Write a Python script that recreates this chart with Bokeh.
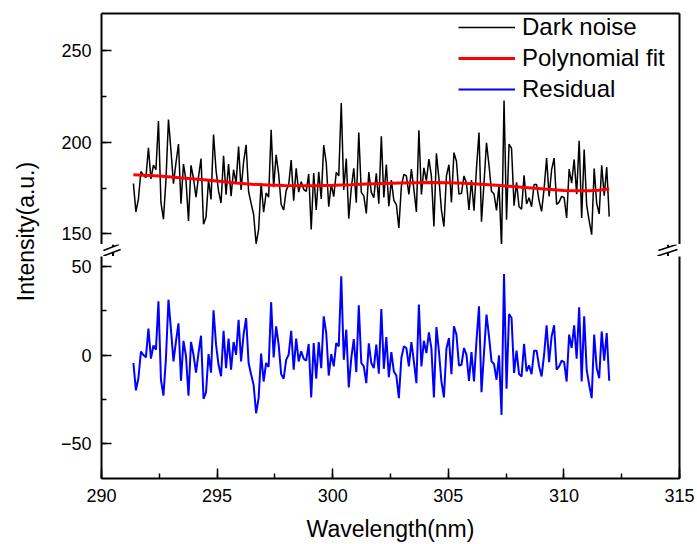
from math import pi
import numpy as np
from bokeh.plotting import figure
from bokeh.models import Range1d, LinearAxis, SingleIntervalTicker, FixedTicker, Label
from bokeh.layouts import row, column
from bokeh.embed import file_html
from bokeh.resources import INLINE

# ---------------- data ----------------
wl_start = 291.38
wl_end = 311.96

dark_noise = [
    177.5, 162, 169, 184, 182, 180.7, 197, 180, 187.5, 185,
    211.5, 167, 158, 179.3, 212.4, 195.4, 177.4, 188.8, 199, 166.4,
    188.1, 179.2, 157, 187.4, 180.2, 170, 181.1, 191, 155.2, 159,
    179.4, 168.8, 204.2, 184.7, 173.3, 166.8, 192.6, 171.4, 188.1, 170.5,
    185, 177.8, 197.6, 174, 189.2, 198.6, 173.1, 166.6, 160.7, 144.6,
    152.4, 177.6, 161.8, 172.3, 170, 206.8, 175.5, 193.1, 182.7, 166,
    163, 173.7, 176.6, 190.2, 168.1, 185.7, 172.8, 178.5, 174.3, 173.2,
    182.7, 152.4, 183.2, 163, 183.8, 169, 198.4, 188.9, 164.8, 177,
    170.3, 183.5, 181.6, 221.4, 174, 191.1, 158.3, 175, 185.8, 167,
    205.3, 172.6, 170.7, 161.2, 183.7, 172.6, 169.7, 183, 166.5, 203.2,
    169.8, 187.8, 165.1, 179.3, 168.3, 166, 153.2, 175.9, 182.5, 181.6,
    171.5, 185.3, 174.3, 162, 206.5, 171.5, 186, 179, 190.8, 181.5,
    154, 193.9, 180.1, 163, 154, 181.6, 187.7, 167.2, 194.3, 189.6,
    171.7, 172.1, 181.6, 177.8, 163, 179.3, 162.6, 185.7, 205.3, 156.6,
    177.9, 199.7, 187.4, 173.2, 171.7, 162.8, 176.6, 142.9, 222.8, 157.7,
    198.9, 196.6, 165.4, 178.1, 164.8, 163.5, 181.9, 166.3, 169.7, 164.8,
    176.9, 176.9, 168, 162.3, 174.6, 191.3, 170.4, 185, 191.3, 166.1,
    167.3, 170.5, 169.7, 158.7, 185.3, 177.7, 190.6, 171.6, 200.8, 158.7,
    196, 165.7, 157.1, 149.6, 185.6, 166.6, 160.9, 187.4, 170.8, 186.5, 159.4,
]

residual = [
    -4.5, -20, -13, 2, 0, -1.3, 15, -2, 5.5, 3,
    30.5, -14, -23, -1.7, 31.4, 14.4, -3.6, 7.8, 18, -14.6,
    8.1, -0.8, -23, 7.4, 0.2, -10, 1.1, 11, -24.8, -21,
    0.6, -10, 25.4, 5.9, -5.5, -12, 13.8, -7.4, 9.3, -8.3,
    7.4, 0.2, 20, -3.6, 11.6, 21, -4.5, -11, -16.9, -33,
    -24.4, 0.8, -15, -4.5, -6.8, 30, -1.3, 16.3, 5.9, -10.8,
    -13.4, -2.7, 0.2, 13.8, -8.3, 9.3, -3.6, 2.1, -2.1, -3.2,
    6.3, -24, 6.8, -13.4, 7.4, -7.4, 22, 12.5, -11.6, 0.6,
    -6.4, 6.8, 4.9, 44.7, -2.7, 14.4, -18.4, -1.7, 9.1, -9.7,
    28.2, -4.5, -6.4, -15.9, 6.6, -4.5, -7.4, 5.9, -10.6, 26.1,
    -7.8, 10.2, -12.5, 1.7, -9.3, -11.6, -24.4, -1.7, 4.9, 4,
    -6.4, 7.4, -3.6, -15.9, 28.6, -6.4, 8.1, 1.1, 12.9, 3.6,
    -24, 15.9, 2.1, -15, -24, 3.6, 9.7, -10.8, 16.3, 11.6,
    -5.9, -5.5, 4, 0.2, -14.6, 1.7, -15, 8.1, 27.7, -21,
    1.1, 22.9, 10.6, -3.6, -5.1, -14, -0.2, -33.9, 46, -19.1,
    23.3, 21, -10.2, 2.5, -10.8, -12.1, 6.3, -9.3, -5.9, -10.8,
    2.5, 2.5, -6.4, -12.1, 0.2, 16.9, -4, 10.6, 16.9, -8.3,
    -6.4, -3.2, -4, -15, 11.6, 4, 16.9, -2.1, 27.1, -15,
    22, -8.3, -16.9, -24.4, 11.6, -7.4, -13.1, 13.4, -3.2, 12.5, -14.6,
]

wavelength = np.linspace(wl_start, wl_end, len(dark_noise))

fit_wavelength = [291.38, 292.5, 293.5, 294.3, 295.1, 295.8, 296.5, 297.2, 297.9, 298.6,
                  299.3, 300.0, 300.8, 301.5, 302.2, 302.9, 303.6, 304.3, 305.0, 305.7,
                  306.4, 307.1, 307.8, 308.6, 309.3, 310.0, 310.6, 311.1, 311.5, 311.96]
fit_values = [182.2, 181.5, 180.5, 179.6, 178.7, 177.8, 177.1, 176.6, 176.4, 176.3,
              176.3, 176.5, 176.8, 177.2, 177.5, 177.7, 177.9, 178.0, 177.9, 177.6,
              177.1, 176.5, 175.8, 175.0, 174.3, 173.7, 173.5, 173.5, 173.8, 174.6]

x_limits = (290, 315)
upper_limits = (144.2, 270.2)
lower_limits = (-70, 55.9)

# ---------------- style / layout ----------------
FONT = "Liberation Sans"
PX_PER_NM = 578 / 25.0
PAD_NM = 12 / PX_PER_NM          # strip frame extends 12px beyond the axes


def style_axis(ax):
    ax.axis_line_color = "black"
    ax.axis_line_width = 2
    ax.major_tick_in = 10
    ax.major_tick_out = 0
    ax.minor_tick_in = 5
    ax.minor_tick_out = 0
    ax.major_tick_line_width = 1.5
    ax.minor_tick_line_width = 1.5
    ax.major_tick_line_color = "black"
    ax.minor_tick_line_color = "black"
    ax.major_label_text_font = FONT
    ax.major_label_text_font_size = "18px"
    ax.major_label_text_color = "black"


def blank_axis():
    ax = LinearAxis(ticker=FixedTicker(ticks=[]))
    ax.axis_line_color = "black"
    ax.axis_line_width = 2
    ax.major_tick_out = 0
    ax.major_tick_in = 0
    ax.minor_tick_out = 0
    ax.minor_tick_in = 0
    ax.major_label_standoff = 0
    return ax


def clean(fig):
    fig.outline_line_color = None
    fig.background_fill_color = "white"
    fig.border_fill_color = "white"
    fig.xgrid.visible = False
    fig.ygrid.visible = False


x_range = Range1d(*x_limits)

# ---------------- upper panel ----------------
top = figure(width=657, height=244, x_range=x_range, y_range=Range1d(*upper_limits),
             output_backend="svg", toolbar_location=None,
             x_axis_location=None, y_axis_location="left",
             min_border_left=61, min_border_right=18, min_border_top=13, min_border_bottom=0)
clean(top)
top.yaxis.ticker = SingleIntervalTicker(interval=50, num_minor_ticks=2)
style_axis(top.yaxis[0])
top.yaxis.major_label_standoff = 10
top.add_layout(blank_axis(), "above")
top.add_layout(blank_axis(), "right")

top.line(wavelength, dark_noise, line_color="black", line_width=1.5, legend_label="Dark noise")
top.line(fit_wavelength, fit_values, line_color="#ff0000", line_width=3, legend_label="Polynomial fit")
# residual lies below this panel's range: only its legend entry shows here
top.line(wavelength, residual, line_color="#0000ff", line_width=2, legend_label="Residual")

lg = top.legend[0]
lg.location = (357, 141)
lg.border_line_color = None
lg.background_fill_alpha = 0
lg.label_text_font = FONT
lg.label_text_font_size = "24px"
lg.label_text_color = "black"
lg.glyph_width = 57
lg.glyph_height = 26
lg.label_height = 26
lg.spacing = 3
lg.padding = 2
lg.margin = 0
lg.label_standoff = 7

# ---------------- axis-break strip ----------------
strip = figure(width=657, height=12,
               x_range=Range1d(x_limits[0] - PAD_NM, x_limits[1] + PAD_NM),
               y_range=Range1d(0, 12),
               output_backend="svg", toolbar_location=None,
               x_axis_location=None, y_axis_location=None,
               min_border_left=61 - 12, min_border_right=18 - 12,
               min_border_top=0, min_border_bottom=0)
clean(strip)
# slashes (x in nm, y in strip pixels from the strip bottom)
slash_x0 = [289.567, 289.567, 314.567, 314.524]
slash_y0 = [6.0, 0.5, 6.0, 0.5]
slash_x1 = [290.260, 290.346, 315.389, 315.433]
slash_y1 = [12.0, 7.0, 12.0, 7.0]
strip.segment(slash_x0, slash_y0, slash_x1, slash_y1, line_color="black", line_width=1.5)
# short continuations of the vertical axis lines up to the slashes
stub_x = [x_limits[0], x_limits[0], x_limits[1], x_limits[1]]
stub_y0 = [12.0, 4.1, 12.0, 3.9]
stub_y1 = [9.75, 0.0, 9.2, 0.0]
strip.segment(stub_x, stub_y0, stub_x, stub_y1, line_color="black", line_width=2)

# ---------------- lower panel ----------------
bottom = figure(width=657, height=288, x_range=x_range, y_range=Range1d(*lower_limits),
                output_backend="svg", toolbar_location=None,
                x_axis_location="below", y_axis_location="left",
                min_border_left=61, min_border_right=18, min_border_top=0, min_border_bottom=66)
clean(bottom)
bottom.yaxis.ticker = SingleIntervalTicker(interval=50, num_minor_ticks=2)
bottom.xaxis.ticker = SingleIntervalTicker(interval=5, num_minor_ticks=2)
style_axis(bottom.yaxis[0])
style_axis(bottom.xaxis[0])
bottom.yaxis.major_label_standoff = 10
bottom.xaxis.major_label_standoff = 10
bottom.xaxis.axis_label = "Wavelength(nm)"
bottom.xaxis.axis_label_text_font = FONT
bottom.xaxis.axis_label_text_font_size = "23px"
bottom.xaxis.axis_label_text_font_style = "normal"
bottom.xaxis.axis_label_text_color = "black"
bottom.xaxis.axis_label_standoff = 11
bottom.add_layout(blank_axis(), "right")

bottom.line(wavelength, residual, line_color="#0000ff", line_width=2)

# ---------------- shared y-axis title ----------------
ylab = figure(width=40, height=544, x_range=Range1d(0, 40), y_range=Range1d(0, 544),
              output_backend="svg", toolbar_location=None,
              x_axis_location=None, y_axis_location=None, min_border=0)
clean(ylab)
ylab.add_layout(Label(x=25, y=313, text="Intensity(a.u.)", angle=pi / 2,
                      text_align="center", text_baseline="middle",
                      text_font=FONT, text_font_size="23px", text_color="black"))

layout = row(ylab, column(top, strip, bottom))

with open("out.html", "w") as f:
    f.write(file_html(layout, INLINE))
